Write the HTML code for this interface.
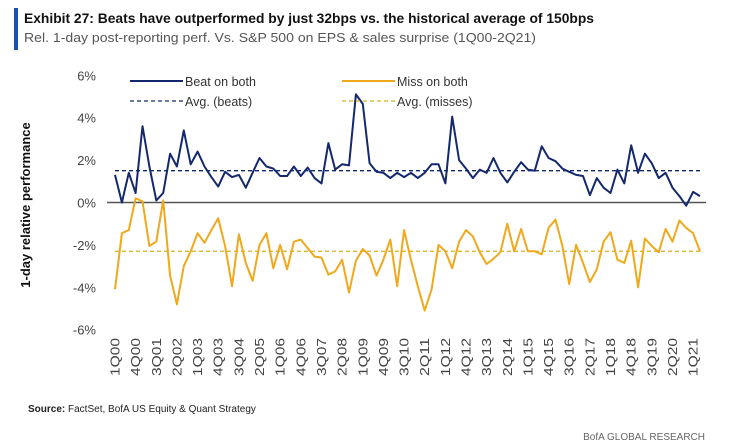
<!DOCTYPE html>
<html><head><meta charset="utf-8">
<style>
body{margin:0;background:#fff;width:750px;height:443px;overflow:hidden;font-family:"Liberation Sans",sans-serif;}
svg{position:absolute;left:0;top:0}
</style></head>
<body>
<svg id="c" width="750" height="443">
<rect x="14" y="8" width="4" height="42" fill="#1a4fb8"/>
<text x="24" y="23" font-size="14" font-weight="bold" fill="#111" textLength="570" lengthAdjust="spacingAndGlyphs">Exhibit 27: Beats have outperformed by just 32bps vs. the historical average of 150bps</text>
<text x="24" y="42" font-size="12.5" fill="#555" textLength="512" lengthAdjust="spacingAndGlyphs">Rel. 1-day post-reporting perf. Vs. S&amp;P 500 on EPS &amp; sales surprise (1Q00-2Q21)</text>
<text transform="translate(30,205) rotate(-90)" text-anchor="middle" font-size="13" font-weight="bold" fill="#111">1-day relative performance</text>
<g id="yt"></g><g id="xt"></g><g id="plot"></g>
<g>
<line x1="130" y1="81" x2="183" y2="81" stroke="#14286e" stroke-width="2"/>
<text x="185" y="86" font-size="12.5" fill="#333">Beat on both</text>
<line x1="130" y1="101" x2="183" y2="101" stroke="#14286e" stroke-width="1.3" stroke-dasharray="4,3"/>
<text x="185" y="106" font-size="12.5" fill="#333">Avg. (beats)</text>
<line x1="342" y1="81" x2="395" y2="81" stroke="#f0a81c" stroke-width="2"/>
<text x="397" y="86" font-size="12.5" fill="#333">Miss on both</text>
<line x1="342" y1="101" x2="395" y2="101" stroke="#d8b020" stroke-width="1.3" stroke-dasharray="4,3"/>
<text x="397" y="106" font-size="12.5" fill="#333">Avg. (misses)</text>
</g>
<text x="28" y="412" font-size="10" fill="#222"><tspan font-weight="bold">Source:</tspan> FactSet, BofA US Equity &amp; Quant Strategy</text>
<text x="705" y="440" font-size="10" fill="#666" text-anchor="end">BofA GLOBAL RESEARCH</text>
</svg>
<script>
const beats=[1.3,0,1.4,0.45,3.6,1.7,0.1,0.45,2.3,1.7,3.4,1.8,2.4,1.7,1.2,0.75,1.45,1.2,1.3,0.7,1.4,2.1,1.7,1.6,1.25,1.25,1.7,1.25,1.65,1.15,0.9,2.8,1.55,1.8,1.75,5.1,4.65,1.85,1.45,1.4,1.15,1.4,1.2,1.4,1.15,1.4,1.8,1.8,0.9,4.05,2.0,1.6,1.15,1.55,1.4,2.1,1.4,0.95,1.45,1.9,1.55,1.5,2.65,2.1,1.95,1.6,1.45,1.3,1.25,0.35,1.15,0.7,0.45,1.55,0.9,2.7,1.4,2.3,1.85,1.15,1.4,0.7,0.3,-0.15,0.5,0.3];
const misses=[-4.1,-1.45,-1.3,0.2,0.05,-2.05,-1.85,0.1,-3.45,-4.8,-3.0,-2.3,-1.45,-1.9,-1.3,-0.75,-2.05,-3.95,-1.5,-2.85,-3.7,-2.0,-1.45,-3.1,-2.0,-3.15,-1.85,-1.75,-2.15,-2.55,-2.6,-3.4,-3.25,-2.7,-4.25,-2.75,-2.2,-2.5,-3.45,-2.7,-1.75,-3.95,-1.3,-2.7,-3.95,-5.1,-4.1,-2.0,-2.3,-3.1,-1.85,-1.3,-1.6,-2.35,-2.9,-2.65,-2.35,-1.0,-2.3,-1.25,-2.3,-2.3,-2.45,-1.2,-0.8,-2.05,-3.85,-2.0,-2.85,-3.75,-3.15,-1.85,-1.4,-2.7,-2.85,-1.8,-4.0,-1.7,-2.05,-2.35,-1.25,-1.85,-0.85,-1.2,-1.45,-2.3];
const avgBeats=1.5;
const avgMisses=-2.3;
const yTicks=[6,4,2,0,-2,-4,-6];
const NS="http://www.w3.org/2000/svg";
const quarters=[];
for(let y=0;y<=21;y++)for(let q=1;q<=4;q++){if(quarters.length<86)quarters.push(q+"Q"+String(y).padStart(2,"0"));}
const x0=115,x1=700,y0=202.5,ppu=21.2;
const X=i=>x0+(x1-x0)*i/(beats.length-1);
const Y=v=>y0-v*ppu;
function mk(t,a,p){const e=document.createElementNS(NS,t);for(const k in a)e.setAttribute(k,a[k]);p.appendChild(e);return e;}
const yt=document.getElementById('yt');
yTicks.forEach(v=>{const t=mk('text',{x:96,y:Y(v)+5,'text-anchor':'end','font-size':13,fill:'#444'},yt);


t.textContent=v+'%';});
const xt=document.getElementById('xt');
quarters.forEach((q,i)=>{if(i%3)return;const t=mk('text',{transform:`translate(${X(i)+4.5},338) rotate(-90)`,'text-anchor':'end','font-size':13,fill:'#444',textLength:38,lengthAdjust:'spacingAndGlyphs'},xt);


t.textContent=q;});
const p=document.getElementById('plot');
const zl=mk('line',{x1:x0-8,x2:x1+6,y1:Y(0),y2:Y(0),stroke:'#555','stroke-width':1.5},p);


const ab=mk('line',{x1:x0,x2:x1,y1:Y(avgBeats),y2:Y(avgBeats),stroke:'#14286e','stroke-width':1.3,'stroke-dasharray':'4,3'},p);


const am=mk('line',{x1:x0,x2:x1,y1:Y(avgMisses),y2:Y(avgMisses),stroke:'#d8b020','stroke-width':1.3,'stroke-dasharray':'4,3'},p);


const pts=a=>a.map((v,i)=>X(i).toFixed(1)+','+Y(v).toFixed(1)).join(' ');
const ml=mk('polyline',{points:pts(misses),fill:'none',stroke:'#f0a81c','stroke-width':2,'stroke-linejoin':'round'},p);


const bl=mk('polyline',{points:pts(beats),fill:'none',stroke:'#14286e','stroke-width':2,'stroke-linejoin':'round'},p);


</script>
</body></html>
